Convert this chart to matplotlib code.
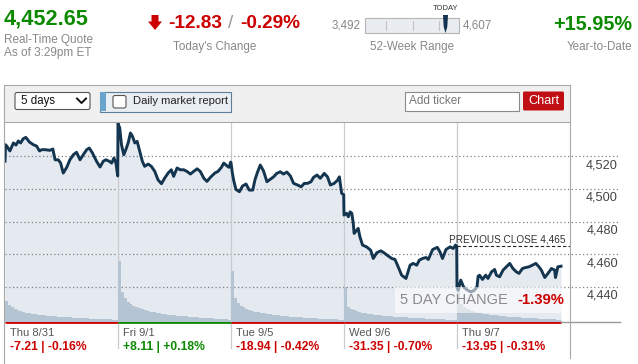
import matplotlib
matplotlib.use('Agg')
from matplotlib import pyplot as plt
from matplotlib import patches, transforms

plt.rcParams['font.family'] = ['Liberation Sans', 'DejaVu Sans']

# ---- data -----------------------------------------------------------
# intraday index level, minutes after the 9:30 open
d1_min = [0, 2, 6, 17, 29, 38, 46, 54, 63, 72, 84, 98, 109, 119, 127, 138, 155, 165, 173, 184,
          192, 201, 213, 224, 236, 247, 259, 270, 282, 291, 302, 316, 328, 339, 348, 360, 368, 376, 383, 389]
d1_px = [4516.9, 4526.9, 4526.1, 4523.1, 4528.0, 4526.7, 4529.2, 4528.0, 4530.6, 4531.4,
         4528.6, 4526.9, 4526.1, 4523.1, 4523.9, 4523.9, 4523.5, 4524.3, 4517.7, 4517.7,
         4515.7, 4509.6, 4513.1, 4517.7, 4520.8, 4522.3, 4517.7, 4520.8, 4523.9, 4524.9,
         4521.8, 4516.8, 4513.3, 4516.8, 4517.7, 4516.8, 4515.7, 4518.8, 4515.7, 4507.8]
d2_min = [0, 6, 12, 20, 27, 35, 43, 50, 58, 66, 75, 84, 92, 104, 115, 127, 138, 150, 161, 173,
          184, 192, 204, 215, 227, 238, 250, 261, 273, 284, 296, 307, 319, 334, 345, 357, 365, 374, 383, 389]
d2_px = [4540.0, 4537.1, 4526.9, 4520.8, 4523.9, 4528.0, 4534.1, 4532.0, 4528.0, 4529.0,
         4522.9, 4516.8, 4513.7, 4515.1, 4513.7, 4510.6, 4505.5, 4503.1, 4506.5, 4509.6,
         4511.6, 4507.6, 4512.7, 4511.6, 4511.6, 4510.6, 4509.0, 4510.6, 4512.2, 4510.6,
         4506.5, 4504.5, 4507.0, 4509.6, 4510.6, 4513.1, 4515.7, 4514.3, 4513.1, 4516.3]
d3_min = [0, 4, 9, 17, 29, 40, 52, 63, 75, 83, 92, 101, 112, 124, 135, 147, 158, 170, 181, 193,
          205, 216, 230, 242, 253, 264, 276, 285, 297, 308, 322, 333, 343, 356, 368, 374, 382, 389]
d3_px = [4515.9, 4510.4, 4505.3, 4499.6, 4498.2, 4501.7, 4502.9, 4499.2, 4499.2, 4505.7,
         4510.4, 4514.5, 4511.0, 4504.3, 4505.7, 4507.3, 4509.4, 4510.4, 4509.0, 4510.2,
         4507.8, 4503.3, 4502.3, 4501.2, 4503.3, 4503.3, 4504.3, 4507.0, 4508.4, 4506.4,
         4509.4, 4507.3, 4502.3, 4503.3, 4505.3, 4507.3, 4497.2, 4496.4]
d4_min = [0, 9, 15, 21, 27, 32, 35, 44, 49, 55, 64, 78, 92, 101, 113, 127, 138, 149, 165, 176,
          187, 199, 214, 228, 239, 251, 260, 271, 283, 291, 306, 322, 331, 340, 352, 366, 377, 385, 389]
d4_px = [4483.9, 4485.0, 4482.9, 4485.9, 4485.0, 4478.8, 4472.7, 4474.7, 4475.8, 4470.6,
         4465.6, 4464.5, 4462.5, 4457.4, 4460.9, 4462.1, 4460.9, 4459.4, 4457.4, 4456.8,
         4452.3, 4447.2, 4445.2, 4453.3, 4454.4, 4453.3, 4456.4, 4457.4, 4458.0, 4456.8,
         4462.9, 4464.2, 4461.5, 4457.4, 4462.9, 4464.5, 4463.5, 4465.6, 4465.0]
d5_min = [0, 4, 13, 23, 37, 48, 60, 69, 73, 78, 88, 99, 107, 119, 130, 136, 147, 159, 170, 182,
          193, 205, 214, 226, 237, 248, 260, 272, 283, 291, 303, 314, 326, 337, 340, 348, 359]
d5_px = [4439.9, 4438.0, 4444.2, 4439.9, 4438.0, 4437.0, 4438.0, 4440.1, 4446.6, 4447.2,
         4444.6, 4447.2, 4445.2, 4449.2, 4450.7, 4447.2, 4446.2, 4450.3, 4452.3, 4454.4,
         4451.3, 4449.2, 4448.3, 4451.3, 4451.9, 4452.3, 4453.3, 4454.4, 4452.3, 4450.3,
         4445.8, 4448.3, 4451.3, 4450.3, 4445.8, 4452.3, 4452.7]

# volume per 10 minute bin (relative units)
d1_vol = [21, 17, 15, 13, 12, 11, 10, 9, 9, 8, 8, 7, 7, 7, 6, 6, 6, 6, 5, 5, 5, 5, 5, 4, 4, 4, 4, 4, 4,
          3, 3, 3, 3, 3, 3, 3, 3, 2, 2]
d2_vol = [61, 30, 24, 20, 18, 16, 15, 14, 13, 12, 11, 10, 10, 9, 9, 8, 8, 7, 7, 7, 6, 6, 6, 6, 5, 5, 5, 5,
          4, 4, 4, 4, 4, 3, 3, 3, 3, 3, 2]
d3_vol = [51, 24, 19, 16, 15, 13, 12, 11, 10, 10, 9, 9, 8, 8, 7, 7, 7, 6, 6, 6, 5, 5, 5, 5, 5, 4, 4, 4, 4,
          4, 3, 3, 3, 3, 3, 3, 3, 2, 2]
d4_vol = [35, 15, 13, 12, 11, 10, 9, 9, 8, 8, 7, 7, 7, 6, 6, 6, 6, 5, 5, 5, 5, 5, 4, 4, 4, 4, 4, 4, 3, 3,
          3, 3, 3, 3, 3, 2, 2, 2, 2]
d5_vol = [40, 18, 15, 13, 12, 11, 10, 9, 9, 8, 8, 7, 7, 7, 6, 6, 6, 5, 5, 5, 5, 5, 4, 4, 4, 4, 4, 4, 3, 3,
          3, 3, 3, 3, 2, 2]

day_names = ['Thu 8/31', 'Fri 9/1', 'Tue 9/5', 'Wed 9/6', 'Thu 9/7']
day_change = ['-7.21 | -0.16%', '+8.11 | +0.18%', '-18.94 | -0.42%', '-31.35 | -0.70%', '-13.95 | -0.31%']
day_up = [False, True, False, False, False]

price_ticks = [4440, 4460, 4480, 4500, 4520]
tick_labels = ['4,440', '4,460', '4,480', '4,500', '4,520']
prev_close = 4465

last_price = '4,452.65'
chg_pts = '-12.83'
chg_pct = '-0.29%'
wk52_low = '3,492'
wk52_high = '4,607'
ytd = '+15.95%'
five_day = '-1.39%'

GREEN = '#0b8a00'
RED = '#cc0000'
GRAY = '#888888'
NAVY = '#14354f'

# ---- chart -------------------------------------------------------------
W, H = 638, 364
fig = plt.figure(figsize=(W / 100, H / 100), dpi=100)
pos = [5 / W, (H - 322) / H, 565 / W, 200 / H]
ax = fig.add_axes(pos)
ax.set_xlim(0, 1950)
ax.set_ylim(4418.6, 4540.8)
ax.set_axis_off()

days_min = [d1_min, d2_min, d3_min, d4_min, d5_min]
days_px = [d1_px, d2_px, d3_px, d4_px, d5_px]
days_vol = [d1_vol, d2_vol, d3_vol, d4_vol, d5_vol]
x, y = [], []
for d in range(5):
    x += [d * 390 + m for m in days_min[d]]
    y += days_px[d]

x_right = (620 - 5) * 1950 / 565  # gridlines run past the plot box

ax.fill_between(x, y, 4418.6, color='#e5eaf0', lw=0)
ax.hlines(price_ticks, 0, x_right, colors='#808080', linestyles=(0, (1, 2)), lw=0.9, clip_on=False)
lbl_tr = transforms.offset_copy(ax.transData, fig=fig, y=-12, units='dots')
for v, t in zip(price_ticks, tick_labels):
    ax.text((618 - 5) * 1950 / 565, v, t, ha='right', va='baseline', fontsize=9.2, color='#444444',
            transform=lbl_tr, clip_on=False)

xt = ax.get_xaxis_transform()
for d in range(1, 5):
    ax.plot([d * 390, d * 390], [-0.13, 1], color='#c8ccd0', lw=0.9, transform=xt, clip_on=False)

# bottom strip: coloured day bars + labels
for d in range(5):
    end = d * 390 + days_min[d][-1]
    ax.plot([d * 390, end], [0, 0], color=GREEN if day_up[d] else RED, lw=2.0, transform=xt,
            clip_on=False, solid_capstyle='butt')
    ax.text(d * 390 + 17, -0.055, day_names[d], fontsize=8, color='#555555', va='center',
            transform=xt, clip_on=False)
    ax.text(d * 390 + 17, -0.125, day_change[d], fontsize=8.7, fontweight='bold', va='center',
            color=GREEN if day_up[d] else RED, transform=xt, clip_on=False)
ax.plot([4 * 390 + d5_min[-1], x_right], [0, 0], color='#999999', lw=1.0, transform=xt, clip_on=False)

# volume
axv = ax.twinx()
axv.set_ylim(0, 200)
axv.set_axis_off()
for d in range(5):
    axv.bar([d * 390 + 10 * i for i in range(len(days_vol[d]))], days_vol[d], width=10, align='edge',
            color='#b4c4d2', lw=0)

# price line on top
axl = fig.add_axes(pos, sharex=ax, sharey=ax)
axl.set_axis_off()
axl.plot(x, y, color=NAVY, lw=2.1, solid_joinstyle='round')
axl.hlines(prev_close, 4 * 390, 1950, colors='#222222', linestyles=(0, (3, 2)), lw=0.8)
axl.text(1933, prev_close, 'PREVIOUS CLOSE 4,465', ha='right', va='bottom', fontsize=7.2, color='#333333',
         transform=transforms.offset_copy(axl.transData, fig=fig, y=2, units='dots'))

# ---- page furniture in pixel space ---------------------------------------
ov = fig.add_axes([0, 0, 1, 1])
ov.set_xlim(0, W)
ov.set_ylim(H, 0)
ov.set_axis_off()

# header
ov.text(4, 19, last_price, fontsize=15.7, fontweight='bold', color=GREEN, va='center')
ov.text(4, 40, 'Real-Time Quote', fontsize=8.5, color=GRAY, va='center')
ov.text(4, 53, 'As of 3:29pm ET', fontsize=8.5, color=GRAY, va='center')

ov.add_patch(patches.Polygon([(151.5, 15), (158.5, 15), (158.5, 21.5), (162, 21.5), (155, 30),
                              (148, 21.5), (151.5, 21.5)], closed=True, fc=RED, ec='none'))
ov.text(168, 24, chg_pts, fontsize=13.7, fontweight='bold', color=RED, va='center')
ov.text(231, 24, '/', fontsize=13.7, color='#999999', va='center', ha='center')
ov.text(240, 24, chg_pct, fontsize=13.7, fontweight='bold', color=RED, va='center')
ov.text(214.5, 47, "Today's Change", fontsize=8.4, color=GRAY, va='center', ha='center')

ov.text(361, 25, wk52_low, fontsize=8.4, color=GRAY, va='center', ha='right')
ov.add_patch(patches.Rectangle((365, 18), 94, 15, fc='#e9edf2', ec='#b5b5b5', lw=0.8))
for tx in [386, 413, 439]:
    ov.plot([tx, tx], [21, 30], color='#c2c2c2', lw=0.8)
ov.add_patch(patches.Polygon([(443, 15), (448, 15), (447.3, 27), (445.5, 33), (443.7, 27)],
                             closed=True, fc='#123252', ec='none'))
ov.text(446, 8.5, 'TODAY', fontsize=5.5, color='#333333', va='center', ha='center')
ov.text(463, 25, wk52_high, fontsize=8.4, color=GRAY, va='center')
ov.text(412, 47, '52-Week Range', fontsize=8.4, color=GRAY, va='center', ha='center')

ov.text(632, 24, ytd, fontsize=14.3, fontweight='bold', color=GREEN, va='center', ha='right')
ov.text(632, 47, 'Year-to-Date', fontsize=8.4, color=GRAY, va='center', ha='right')

# toolbar
ov.add_patch(patches.Rectangle((4, 85), 566, 37, fc='#f0f0f0', ec='none'))
ov.plot([4, 570], [85, 85], color='#a8a8a8', lw=0.8)
ov.plot([4, 570], [122, 122], color='#a8a8a8', lw=0.8)
ov.plot([4, 4], [85, 364], color='#a8a8a8', lw=0.8)
ov.plot([570, 570], [85, 358], color='#a8a8a8', lw=0.8)

ov.add_patch(patches.FancyBboxPatch((15, 92.5), 75, 17, boxstyle='round,pad=0,rounding_size=2',
                                    fc='white', ec='#555555', lw=0.8))
ov.text(21, 101, '5 days', fontsize=8.3, color='#111111', va='center')
ov.plot([77, 81.5, 86], [98.5, 103, 98.5], color='#111111', lw=1.4)

ov.add_patch(patches.Rectangle((100, 92), 130.5, 19.5, fc='#e9eef3', ec='#5d7d99', lw=0.8))
ov.add_patch(patches.Rectangle((100.4, 92.4), 5.5, 18.7, fc='#6aa3cc', ec='none'))
ov.add_patch(patches.FancyBboxPatch((113, 95.5), 13, 12.5, boxstyle='round,pad=0,rounding_size=2',
                                    fc='white', ec='#555555', lw=0.8))
ov.text(133, 101.5, 'Daily market report', fontsize=8.1, color='#222222', va='center')

ov.add_patch(patches.Rectangle((405, 91.5), 114, 19, fc='white', ec='#8a8a8a', lw=0.8))
ov.text(409, 101, 'Add ticker', fontsize=8.5, color='#777777', va='center')
ov.add_patch(patches.FancyBboxPatch((523, 91.5), 41, 19, boxstyle='round,pad=0,rounding_size=1.5',
                                    fc='#c00f14', ec='none'))
ov.text(543.5, 101, 'Chart', fontsize=9.2, color='white', va='center', ha='center')

# 5 day change badge over the chart
ov.add_patch(patches.Rectangle((395, 287), 167, 26, fc='white', ec='none', alpha=0.55))
ov.text(400, 300, '5 DAY CHANGE', fontsize=10.5, color='#8a8a8a', va='center')
ov.text(564, 300, five_day, fontsize=10.7, fontweight='bold', color=RED, va='center', ha='right')

fig.savefig('out.png', dpi=100)
